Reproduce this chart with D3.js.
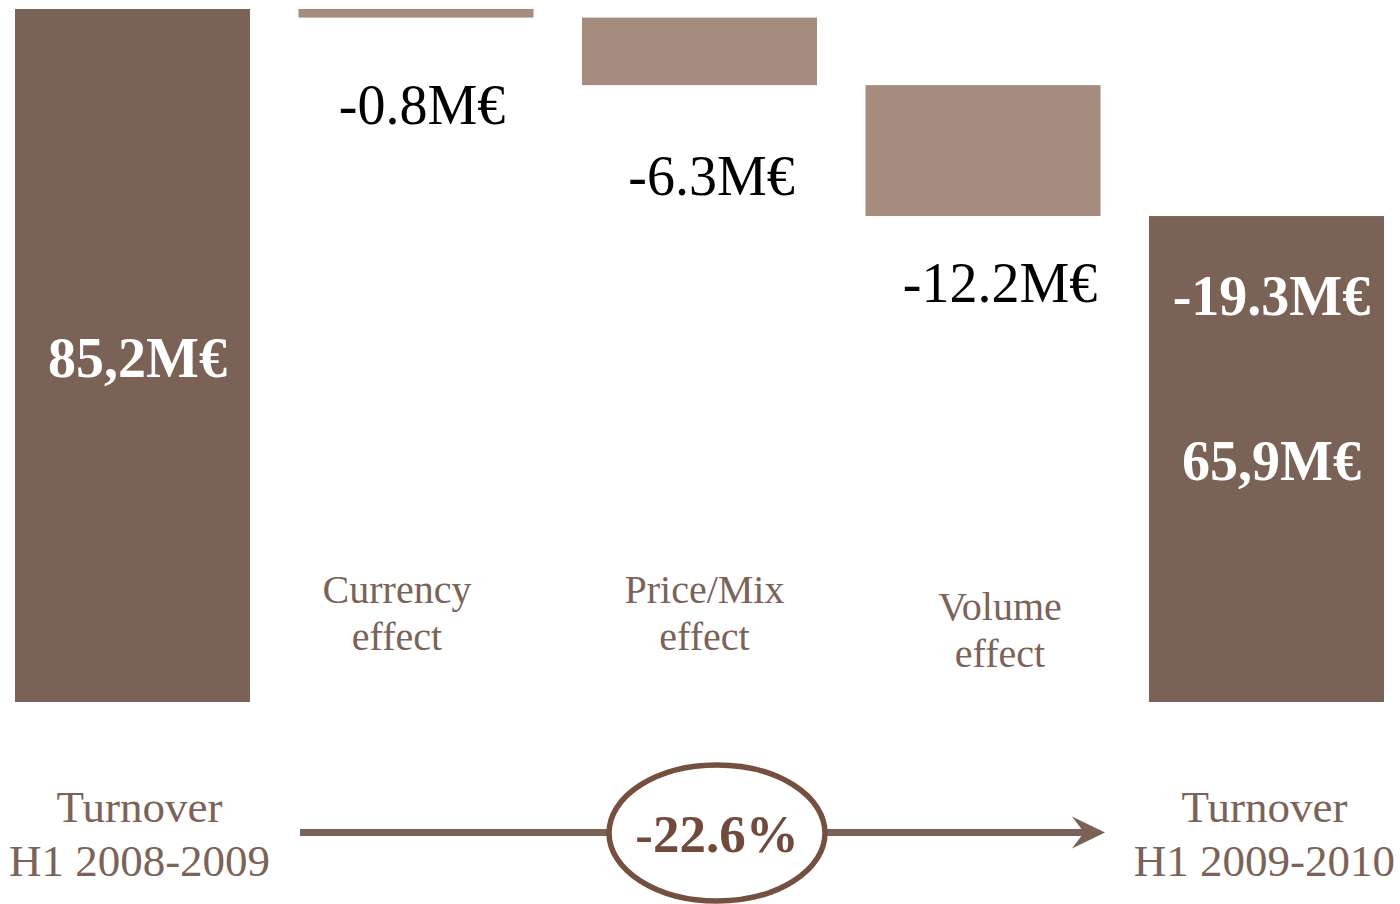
<!DOCTYPE html>
<html>
<head>
<meta charset="utf-8">
<script src="https://cdn.jsdelivr.net/npm/d3@7/dist/d3.min.js"></script>
<style>
  html, body { margin: 0; padding: 0; background: #ffffff; }
  svg { display: block; }
  text { font-family: "Liberation Serif", "Times New Roman", serif; }
</style>
</head>
<body>
<svg id="chart" width="1400" height="904"></svg>
<script>
// Turnover bridge, H1 2008-2009 to H1 2009-2010 (M€)
const categories = ["start", "currency", "priceMix", "volume", "end"];
const categoryLines = [
  ["Turnover", "H1 2008-2009"],
  ["Currency", "effect"],
  ["Price/Mix", "effect"],
  ["Volume", "effect"],
  ["Turnover", "H1 2009-2010"]
];
const startValue = 85.2;
const effectValues = [-0.8, -6.3, -12.2];
const endValue = 65.9;
const totalChange = -19.3;
const changePct = -22.6;
const effectLabels = ["-0.8M€", "-6.3M€", "-12.2M€"];
const startLabel = "85,2M€";
const endLabel = "65,9M€";
const totalChangeLabel = "-19.3M€";
const changePctLabel = "-22.6%";
const axisFloor = 20.6;

const svg = d3.select("#chart");
const darkFill = "#7a6256";
const lightFill = "#a68c7f";
const labelColor = "#7b6357";
const accent = "#75503f";

const x = d3.scaleBand().domain(categories).range([15, 1384])
  .paddingInner(0.171).paddingOuter(0);
const y = d3.scaleLinear().domain([axisFloor, startValue]).range([702, 9]);

// waterfall segments
const segments = [];
segments.push({ key: "start", from: axisFloor, to: startValue, fill: darkFill });
let running = startValue;
effectValues.forEach((v, i) => {
  segments.push({ key: categories[i + 1], from: running, to: running + v, fill: lightFill });
  running += v;
});
segments.push({ key: "end", from: axisFloor, to: endValue, fill: darkFill });

svg.selectAll("rect.bar").data(segments).enter().append("rect")
  .attr("class", "bar")
  .attr("x", d => x(d.key))
  .attr("width", x.bandwidth())
  .attr("y", d => y(Math.max(d.from, d.to)))
  .attr("height", d => Math.abs(y(d.from) - y(d.to)))
  .attr("fill", d => d.fill);

// effect value labels below each floating bar
const effectDx = [6, 12, 17];
const effectDy = [106, 110, 86];
svg.selectAll("text.effect").data(segments.slice(1, 4)).enter().append("text")
  .attr("class", "effect")
  .attr("x", (d, i) => x(d.key) + x.bandwidth() / 2 + effectDx[i])
  .attr("y", (d, i) => y(d.to) + effectDy[i])
  .attr("text-anchor", "middle")
  .attr("font-size", 56)
  .attr("fill", "#000")
  .text((d, i) => effectLabels[i]);

// totals inside the dark bars
const cStart = x("start") + x.bandwidth() / 2;
const cEnd = x("end") + x.bandwidth() / 2;
svg.append("text").attr("x", cStart + 5).attr("y", 377)
  .attr("text-anchor", "middle").attr("font-size", 56).attr("font-weight", "bold")
  .attr("fill", "#fff").text(startLabel);
svg.append("text").attr("x", cEnd + 5).attr("y", 315)
  .attr("text-anchor", "middle").attr("font-size", 56).attr("font-weight", "bold")
  .attr("fill", "#fff").text(totalChangeLabel);
svg.append("text").attr("x", cEnd + 5).attr("y", 480)
  .attr("text-anchor", "middle").attr("font-size", 56).attr("font-weight", "bold")
  .attr("fill", "#fff").text(endLabel);

// effect category names
const catDx = [0, -19, 5, 17, 0];
const catBase = [0, 603, 603, 620, 0];
[1, 2, 3].forEach(i => {
  const t = svg.append("text")
    .attr("x", x(categories[i]) + x.bandwidth() / 2 + catDx[i])
    .attr("y", catBase[i])
    .attr("text-anchor", "middle").attr("font-size", 40).attr("fill", labelColor);
  categoryLines[i].forEach((line, j) => {
    t.append("tspan").attr("x", x(categories[i]) + x.bandwidth() / 2 + catDx[i])
      .attr("dy", j === 0 ? 0 : 46.5).text(line);
  });
});

// period names under the totals
[[0, cStart + 7], [4, cEnd - 2]].forEach(([i, cx]) => {
  const t = svg.append("text").attr("x", cx).attr("y", 822)
    .attr("text-anchor", "middle").attr("font-size", 45).attr("fill", labelColor);
  categoryLines[i].forEach((line, j) => {
    t.append("tspan").attr("x", cx).attr("dy", j === 0 ? 0 : 54).text(line);
  });
});

// change arrow with the percentage in an ellipse
const arrowY = 832.5;
const ell = { cx: 717, cy: 833, rx: 108, ry: 68 };
svg.append("line").attr("x1", 300).attr("x2", ell.cx - ell.rx).attr("y1", arrowY).attr("y2", arrowY)
  .attr("stroke", darkFill).attr("stroke-width", 7);
svg.append("line").attr("x1", ell.cx + ell.rx).attr("x2", 1085).attr("y1", arrowY).attr("y2", arrowY)
  .attr("stroke", darkFill).attr("stroke-width", 7);
svg.append("path")
  .attr("d", `M1105,${arrowY} L1072,${arrowY - 16} L1084,${arrowY} L1072,${arrowY + 16} Z`)
  .attr("fill", darkFill);
svg.append("ellipse").attr("cx", ell.cx).attr("cy", ell.cy).attr("rx", ell.rx).attr("ry", ell.ry)
  .attr("fill", "#fff").attr("stroke", accent).attr("stroke-width", 5.5);
svg.append("text").attr("x", ell.cx).attr("y", 852)
  .attr("text-anchor", "middle").attr("font-size", 53).attr("font-weight", "bold")
  .attr("fill", "#714a3c").text(changePctLabel);
</script>
</body>
</html>
